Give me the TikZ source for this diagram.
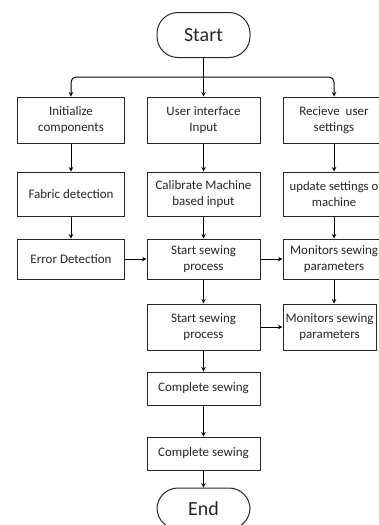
\documentclass[tikz,border=0pt]{standalone}
\usepackage{fontspec}
\setmainfont{Carlito}
\usetikzlibrary{calc}

\begin{document}
\begin{tikzpicture}[x=1pt, y=-1pt, >=stealth, line width=1pt,
    proc/.style={draw=black!85, rectangle, align=center, inner sep=1pt,
        font=\fontsize{13}{16}\selectfont, text=black!85},
    term/.style={draw=black!85, rectangle, rounded corners=21pt, align=center,
        minimum width=93pt, font=\fontsize{20}{22}\selectfont, text=black!85}]
    % page size of the reference
    \useasboundingbox (0,0) rectangle (379,525);

    % Start and End
    \node[term, minimum height=45pt] (start) at (203.5,35) {Start};
    \node[term, minimum height=41pt] (end) at (203.5,508.5) {End};

    % Left column
    \node[proc, minimum width=107pt, minimum height=46pt] (l1) at (71,120) {Initialize\\components};
    \node[proc, minimum width=107pt, minimum height=44pt] (l2) at (71,194) {Fabric detection};
    \node[proc, minimum width=107pt, minimum height=40pt] (l3) at (71,259) {Error Detection};

    % Middle column
    \node[proc, minimum width=113pt, minimum height=46pt] (m1) at (203.5,120) {User interface\\Input};
    \node[proc, minimum width=113pt, minimum height=44pt] (m2) at (203.5,194) {Calibrate Machine\\based input};
    \node[proc, minimum width=113pt, minimum height=40pt] (m3) at (203.5,259) {Start sewing\\process};
    \node[proc, minimum width=113pt, minimum height=46pt] (m4) at (203.5,327) {Start sewing\\process};
    \node[proc, minimum width=113pt, minimum height=33pt] (m5) at (203.5,388.5) {Complete sewing};
    \node[proc, minimum width=113pt, minimum height=33pt] (m6) at (203.5,453.5) {Complete sewing};

    % Right column (runs off the page edge)
    \node[proc, minimum width=102pt, minimum height=46pt] (r1) at (334,120) {Recieve~ user\\settings};
    \node[proc, minimum width=102pt, minimum height=44pt, font=\fontsize{12.7}{16}\selectfont] (r2) at (334,194) {update settings o\\machine};
    \node[proc, minimum width=102pt, minimum height=40pt] (r3) at (334,259) {Monitors sewing\\parameters};
    \node[proc, minimum width=93pt, minimum height=46pt] (r4) at (329.5,327) {Monitors sewing\\parameters};

    % Branch from Start
    \coordinate (br) at (203.5,77);
    \draw (start.south) -- (br);
    \draw[->, rounded corners=5pt] (br) -| (l1.north);
    \draw[->, rounded corners=5pt] (br) -| (r1.north);
    \draw[->] (br) -- (m1.north);

    % Vertical arrows
    \draw[->] (l1) -- (l2);
    \draw[->] (l2) -- (l3);
    \draw[->] (m1) -- (m2);
    \draw[->] (m2) -- (m3);
    \draw[->] (m3) -- (m4);
    \draw[->] (m4) -- (m5);
    \draw[->] (m5) -- (m6);
    \draw[->] (m6) -- (end);
    \draw[->] (r1) -- (r2);
    \draw[->] (r2) -- (r3);
    \draw[->] (r3.south) -- (r3.south |- r4.north);

    % Horizontal arrows
    \draw[->] (l3) -- (m3);
    \draw[->] (m3) -- (r3);
    \draw[->] (m4) -- (r4);

\end{tikzpicture}
\end{document}
